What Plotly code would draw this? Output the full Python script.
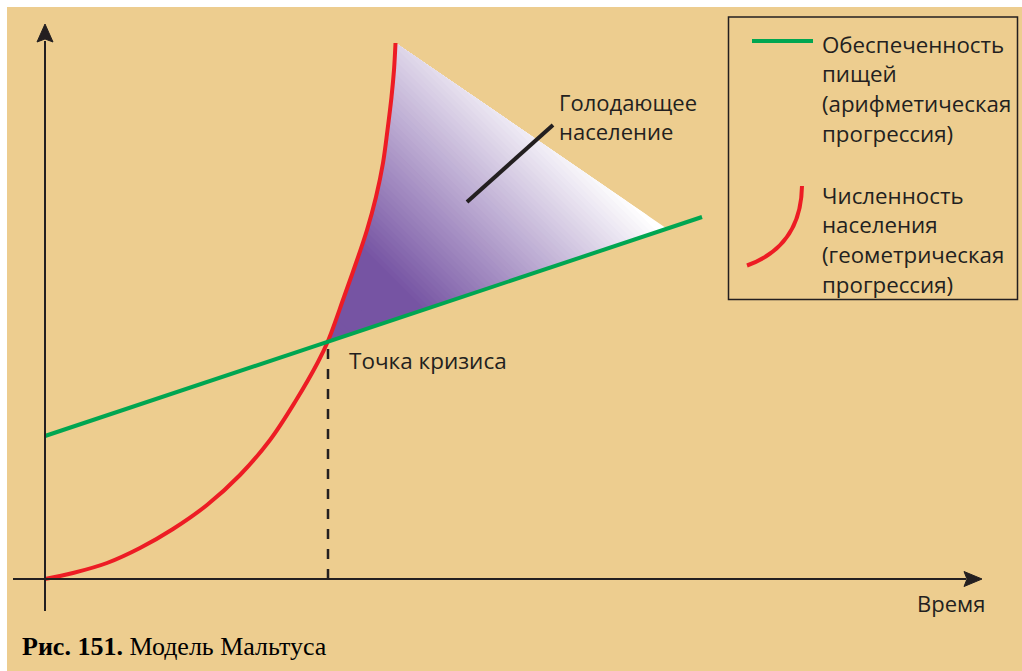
import numpy as np
import plotly.graph_objects as go

# ---------------- data ----------------
# red curve: population (geometric progression)
time_pop = [0, 28, 62, 95, 128, 162, 195, 225, 250, 273, 283, 299, 311, 322, 331, 338, 342.5, 346.5, 349, 350.5]
population = [0, 6, 16, 31, 50, 74, 104, 139, 177, 217, 238, 282, 316, 349, 382, 416, 449, 482, 509, 536]
# green line: food supply (arithmetic progression)
time_food = [0, 657]
food = [143, 362]
# crisis point index in the population series and the apex time of the shaded area
crisis_index = 10
hunger_apex_time = 622

# legend / label texts
food_label = ["Обеспеченность", "пищей", "(арифметическая", "прогрессия)"]
pop_label = ["Численность", "населения", "(геометрическая", "прогрессия)"]
crisis_label = "Точка кризиса"
hunger_label = ["Голодающее", "население"]
time_label = "Время"
caption_bold = "Рис. 151."
caption_text = "Модель Мальтуса"

# ---------------- styles ----------------
BG = "#EDCD8F"
INK = "#231F20"
RED = "#ED1C24"
GREEN = "#00A651"
PURPLE = (118, 84, 163)
FONT = "Open Sans"
FS = 22

W, H = 1022, 671
ML, MT = 7, 7
OX, OY = 45, 579  # pixel position of the origin


def P(px, py):
    """convert a page pixel position into data coordinates"""
    return px - OX, OY - py


fig = go.Figure()

# ---------------- shaded "hungry population" area with gradient ----------------
t = np.array(time_pop, float)
p = np.array(population, float)
crisis_t = t[crisis_index]
crisis_food = float(np.interp(crisis_t, time_food, food))
apex_food = float(np.interp(hunger_apex_time, time_food, food))
poly = [(crisis_t, crisis_food)] + list(zip(t[crisis_index + 1:], p[crisis_index + 1:])) + \
       [(hunger_apex_time, apex_food)]
poly = np.array(poly)


def clip_below(polygon, level):
    """keep the part of polygon where x + y <= level"""
    out = []
    n = len(polygon)
    for i in range(n):
        a = polygon[i]
        b = polygon[(i + 1) % n]
        fa = a[0] + a[1] - level
        fb = b[0] + b[1] - level
        if fa <= 0:
            out.append(a)
        if (fa < 0 < fb) or (fb < 0 < fa):
            s = fa / (fa - fb)
            out.append(a + s * (b - a))
    return np.array(out)


proj = poly[:, 0] + poly[:, 1]
pmin, pmax = proj.min(), proj.max()
dark_until = pmin + 0.28 * (pmax - pmin)
light_at = pmax - 0.02 * (pmax - pmin)


def shade(level):
    f = (level - dark_until) / (light_at - dark_until)
    f = min(max(f, 0.0), 1.0)
    r = PURPLE[0] + (255 - PURPLE[0]) * f
    g = PURPLE[1] + (255 - PURPLE[1]) * f
    b = PURPLE[2] + (255 - PURPLE[2]) * f
    return f"rgb({r:.0f},{g:.0f},{b:.0f})"


N = 70
step = (pmax - pmin) / N
for k in range(N - 1, -1, -1):
    lvl = pmin + (k + 1) * step + (0.01 if k == N - 1 else 0)
    part = clip_below(poly, lvl)
    if len(part) < 3:
        continue
    col = shade(lvl - step / 2)
    fig.add_trace(go.Scatter(
        x=np.append(part[:, 0], part[0, 0]), y=np.append(part[:, 1], part[0, 1]),
        mode="lines", fill="toself", fillcolor=col,
        line=dict(width=0, color=col), hoverinfo="skip"))

# ---------------- dashed crisis line ----------------
fig.add_trace(go.Scatter(x=[crisis_t, crisis_t], y=[0, crisis_food], mode="lines",
                         line=dict(color=INK, width=2.5, dash="10px,10px"), hoverinfo="skip"))

# ---------------- curves ----------------
fig.add_trace(go.Scatter(x=time_pop, y=population, mode="lines",
                         line=dict(color=RED, width=4, shape="spline", smoothing=1.0),
                         hoverinfo="skip"))
fig.add_trace(go.Scatter(x=time_food, y=food, mode="lines",
                         line=dict(color=GREEN, width=4), hoverinfo="skip"))

# ---------------- axes with arrows ----------------
shapes = []
x0, y0 = P(45, 611)
x1, y1 = P(45, 41)
shapes.append(dict(type="line", x0=x0, y0=y0, x1=x1, y1=y1, line=dict(color=INK, width=2)))
tx, ty = P(45, 24)
shapes.append(dict(type="path", path=f"M {tx-8},{ty-18} L {tx},{ty} L {tx+8},{ty-18} L {tx},{ty-15} Z",
                   fillcolor=INK, line=dict(color=INK, width=1)))
x0, y0 = P(13, 579)
x1, y1 = P(966, 579)
shapes.append(dict(type="line", x0=x0, y0=y0, x1=x1, y1=y1, line=dict(color=INK, width=2)))
tx, ty = P(982, 579)
shapes.append(dict(type="path", path=f"M {tx-18},{ty+7.5} L {tx},{ty} L {tx-18},{ty-7.5} L {tx-15},{ty} Z",
                   fillcolor=INK, line=dict(color=INK, width=1)))

# pointer line for hungry population
ax0, ay0 = P(467, 202)
ax1, ay1 = P(553, 125)
shapes.append(dict(type="line", x0=ax0, y0=ay0, x1=ax1, y1=ay1, line=dict(color=INK, width=4)))

# legend box
bx0, by0 = P(728.5, 17)
bx1, by1 = P(1017.5, 299.5)
shapes.append(dict(type="rect", x0=bx0, y0=by0, x1=bx1, y1=by1, line=dict(color=INK, width=1.5)))
# legend glyphs
gx0, gy0 = P(752, 41)
gx1, gy1 = P(813, 41)
shapes.append(dict(type="line", x0=gx0, y0=gy0, x1=gx1, y1=gy1, line=dict(color=GREEN, width=4)))
rx0, ry0 = P(747, 265.5)
rcx, rcy = P(801, 246)
rx1, ry1 = P(802, 186)
shapes.append(dict(type="path", path=f"M {rx0},{ry0} Q {rcx},{rcy} {rx1},{ry1}",
                   line=dict(color=RED, width=4)))

# ---------------- texts ----------------
ann = []


def label(txt, px, py, size=FS, family=FONT, color=INK, anchor="left"):
    x, y = P(px, py)
    ann.append(dict(x=x, y=y, text=txt, showarrow=False, xanchor=anchor, yanchor="middle",
                    font=dict(family=family, size=size, color=color)))


for i, s in enumerate(food_label):
    label(s, 820, 44 + 29.7 * i, size=22.3)
for i, s in enumerate(pop_label):
    label(s, 820, 195 + 29.7 * i, size=22.3)
label(crisis_label, 347, 360, size=22.5)
label(hunger_label[0], 557, 102)
label(hunger_label[1], 557, 131)
label(time_label, 915, 603)
label(f"<b>{caption_bold}</b> {caption_text}", 20, 646, size=26, family="Liberation Serif", color="#000000")

fig.update_layout(
    width=W, height=H,
    margin=dict(l=ML, t=MT, r=0, b=0, pad=0),
    paper_bgcolor="white", plot_bgcolor=BG,
    showlegend=False, hovermode=False,
    xaxis=dict(range=[ML - OX, W - OX], visible=False, fixedrange=True),
    yaxis=dict(range=[OY - H, OY - MT], visible=False, fixedrange=True),
    shapes=shapes, annotations=ann,
)

fig.write_html("out.html", config={"displayModeBar": False},
               post_script="document.body.style.margin='0px';document.body.style.overflow='hidden';")
